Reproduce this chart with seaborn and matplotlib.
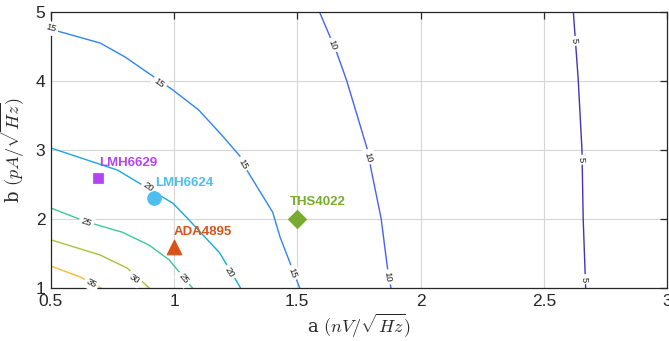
import numpy as np
import pandas as pd
import matplotlib
matplotlib.use("Agg")
import matplotlib.pyplot as plt
import seaborn as sns

# Contour lines: level -> (a, b) points
levels = [5, 10, 15, 20, 25, 30, 35]
level_colors = ['#4433B5', '#4562F5', '#2F86EE', '#18A8D8', '#3DC79C', '#A8C23A', '#F5BA3A']

c5_a = [2.62, 2.64, 2.655, 2.66, 2.67]
c5_b = [5.0, 4.01, 3.0, 2.0, 1.0]
c10_a = [1.59, 1.66, 1.70, 1.785, 1.80, 1.84, 1.867, 1.88]
c10_b = [5.0, 4.41, 4.01, 3.0, 2.71, 2.01, 1.26, 1.0]
c15_a = [0.5, 0.70, 0.80, 0.995, 1.10, 1.20, 1.27, 1.295, 1.40, 1.43, 1.51]
c15_b = [4.75, 4.55, 4.35, 3.87, 3.58, 3.19, 2.90, 2.71, 2.10, 1.74, 1.0]
c20_a = [0.5, 0.77, 0.995, 1.06, 1.185, 1.27]
c20_b = [3.03, 2.71, 2.23, 1.99, 1.51, 1.0]
c25_a = [0.5, 0.645, 0.79, 0.90, 0.98, 1.075]
c25_b = [2.16, 1.96, 1.81, 1.62, 1.41, 1.0]
c30_a = [0.5, 0.70, 0.81, 0.90]
c30_b = [1.70, 1.48, 1.29, 1.0]
c35_a = [0.5, 0.62, 0.705]
c35_b = [1.32, 1.16, 1.0]
contour_a = [c5_a, c10_a, c15_a, c20_a, c25_a, c30_a, c35_a]
contour_b = [c5_b, c10_b, c15_b, c20_b, c25_b, c30_b, c35_b]

# inline label spots (level, a, b)
label_level = [5, 5, 5, 10, 10, 10, 15, 15, 15, 15, 20, 20, 25, 25, 30, 35]
label_a = [2.625, 2.653, 2.665, 1.645, 1.787, 1.867, 0.50, 0.94, 1.28, 1.48, 0.897, 1.226, 0.645, 1.04, 0.84, 0.665]
label_b = [4.58, 2.86, 1.13, 4.52, 2.90, 1.16, 4.76, 3.97, 2.80, 1.22, 2.46, 1.23, 1.96, 1.14, 1.14, 1.07]

# op-amps
parts = ['LMH6629', 'LMH6624', 'ADA4895', 'THS4022']
part_a = [0.69, 0.92, 1.0, 1.5]
part_b = [2.6, 2.3, 1.6, 2.0]
part_markers = ['s', 'o', '^', 'D']
part_sizes = [45, 95, 110, 85]
part_colors = ['#B444F2', '#4DBEEE', '#D95319', '#77AC30']
text_dx = [0.005, 0.005, 0.0, -0.03]
text_dy = [0.21, 0.22, 0.21, 0.25]

sns.set_style("white")
plt.rcParams['mathtext.fontset'] = 'cm'
plt.rcParams['font.family'] = ['Liberation Sans', 'DejaVu Sans']

fig = plt.figure(figsize=(6.69, 3.41), dpi=100)
ax = fig.add_axes([0.076, 0.155, 0.921, 0.81])
ax.set_xlim(0.5, 3)
ax.set_ylim(1, 5)

for lev, xs, ys, col in zip(levels, contour_a, contour_b, level_colors):
    df = pd.DataFrame({'a': xs, 'b': ys})
    sns.lineplot(data=df, x='a', y='b', sort=False, estimator=None, color=col, linewidth=1.0, ax=ax, zorder=2)

# rotated inline labels
for lev, la, lb in zip(label_level, label_a, label_b):
    i = levels.index(lev)
    pts = ax.transData.transform(np.column_stack([contour_a[i], contour_b[i]]))
    p = ax.transData.transform((la, lb))
    d = np.hypot(pts[:, 0] - p[0], pts[:, 1] - p[1])
    k = int(np.argmin(d))
    k0, k1 = max(k - 1, 0), min(k + 1, len(pts) - 1)
    dx, dy = pts[k1] - pts[k0]
    ang = np.degrees(np.arctan2(dy, dx))
    if ang > 90:
        ang -= 180
    if ang < -90:
        ang += 180
    ax.text(la, lb, str(lev), fontsize=6.8, rotation=ang, rotation_mode='anchor',
            ha='center', va='center', color='#222222', zorder=3,
            bbox=dict(boxstyle='square,pad=0.25', fc='white', ec='none'))

for name, pa, pb, m, s, c, tx, ty in zip(parts, part_a, part_b, part_markers, part_sizes, part_colors, text_dx, text_dy):
    sns.scatterplot(x=[pa], y=[pb], marker=m, s=s, color=c, edgecolor=c, ax=ax, zorder=4)
    ax.text(pa + tx, pb + ty, name, color=c, fontsize=9.5, fontweight='bold', ha='left', va='center', zorder=4)

ax.set_xticks([0.5, 1, 1.5, 2, 2.5, 3])
ax.set_xticklabels(['0.5', '1', '1.5', '2', '2.5', '3'])
ax.set_yticks([1, 2, 3, 4, 5])
ax.grid(True, color='#d6d6d6', linewidth=0.8, zorder=0)
ax.set_axisbelow(True)
ax.tick_params(direction='in', length=5, width=0.9, top=True, right=True, labelsize=12.5, colors='#262626', pad=4)
for sp in ax.spines.values():
    sp.set_color('#262626')
    sp.set_linewidth(0.9)

ax.set_xlabel(r'a $(nV/\sqrt{Hz})$', fontsize=13, family='DejaVu Serif', labelpad=2)
ax.set_ylabel(r'b $(pA/\sqrt{Hz})$', fontsize=13, family='DejaVu Serif', labelpad=6)

plt.savefig('out.png', dpi=100)
